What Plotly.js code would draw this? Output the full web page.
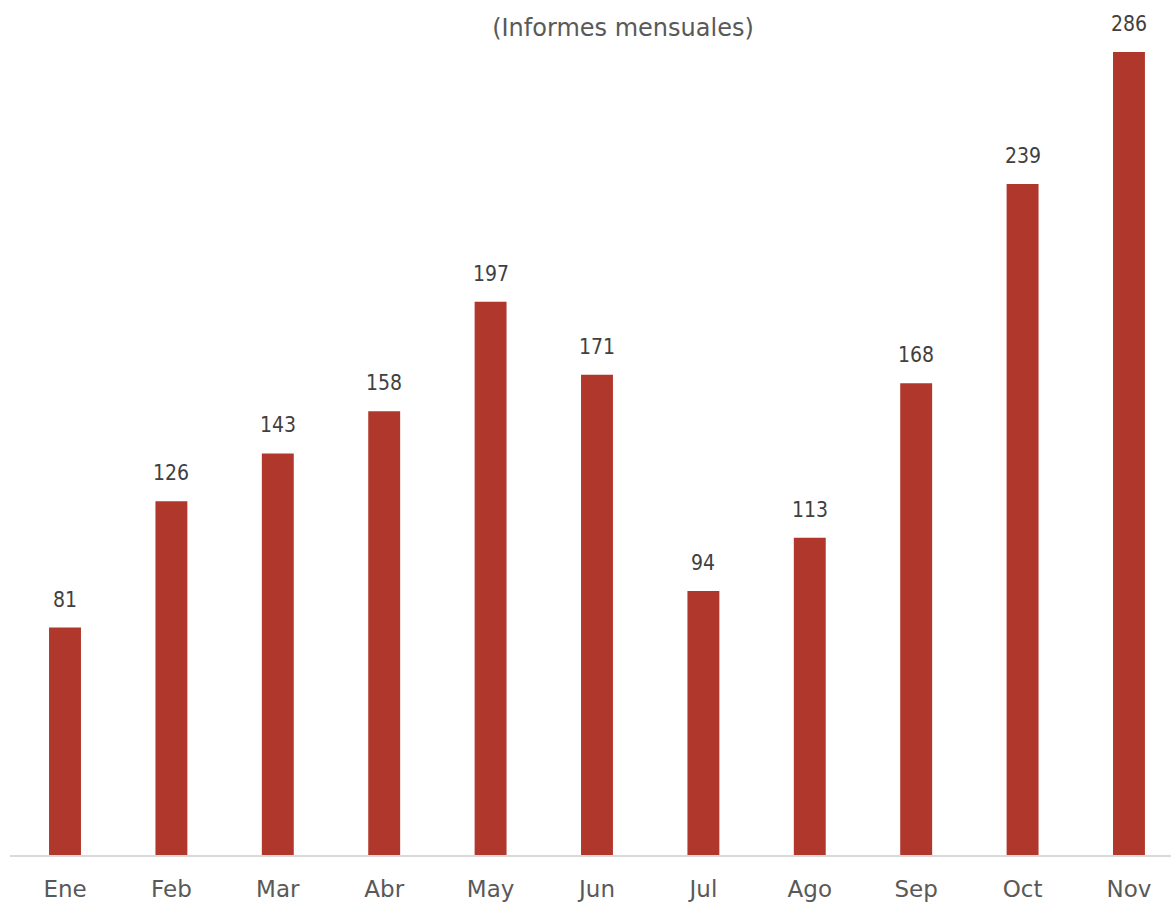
<!DOCTYPE html>
<html>
<head>
<meta charset="utf-8">
<script src="https://cdn.plot.ly/plotly-3.0.1.min.js"></script>
<style>html,body{margin:0;padding:0;background:#fff;}#chart{width:1171px;height:902px;}</style>
</head>
<body>
<div id="chart"></div>
<script>
const months = ["Ene","Feb","Mar","Abr","May","Jun","Jul","Ago","Sep","Oct","Nov"];
const reports = [81,126,143,158,197,171,94,113,168,239,286];
const titleText = "(Informes mensuales)";

const annotations = months.map((m, i) => ({
  x: m, y: reports[i], xref: 'x', yref: 'y',
  text: String(reports[i]), showarrow: false,
  yanchor: 'bottom', yshift: 14,
  font: {family: 'DejaVu Sans Condensed, DejaVu Sans, sans-serif', size: 21, color: '#404040'}
}));

const trace = {
  type: 'bar', x: months, y: reports,
  width: 0.3,
  marker: {color: '#b0372b'},
  hoverinfo: 'none'
};

const layout = {
  width: 1171, height: 902,
  margin: {l: 10, r: 0, t: 0, b: 47},
  paper_bgcolor: '#ffffff', plot_bgcolor: '#ffffff',
  showlegend: false,
  title: {
    text: titleText, xref: 'container', yref: 'container',
    x: 0.532, y: 0.969, xanchor: 'center', yanchor: 'middle',
    font: {family: 'DejaVu Sans, Verdana, sans-serif', size: 24, color: '#595959'}
  },
  xaxis: {
    type: 'category', range: [-0.517, 10.395],
    showline: true, linecolor: '#d9d9d9', linewidth: 2,
    showgrid: false, zeroline: false, ticks: '',
    ticklabelstandoff: 12,
    tickfont: {family: 'DejaVu Sans, Verdana, sans-serif', size: 23, color: '#595959'},
    fixedrange: true
  },
  yaxis: {
    range: [0, 304.5], visible: false, showgrid: false, zeroline: false, fixedrange: true
  },
  annotations: annotations
};

Plotly.newPlot('chart', [trace], layout, {displayModeBar: false, staticPlot: true});
</script>
</body>
</html>
